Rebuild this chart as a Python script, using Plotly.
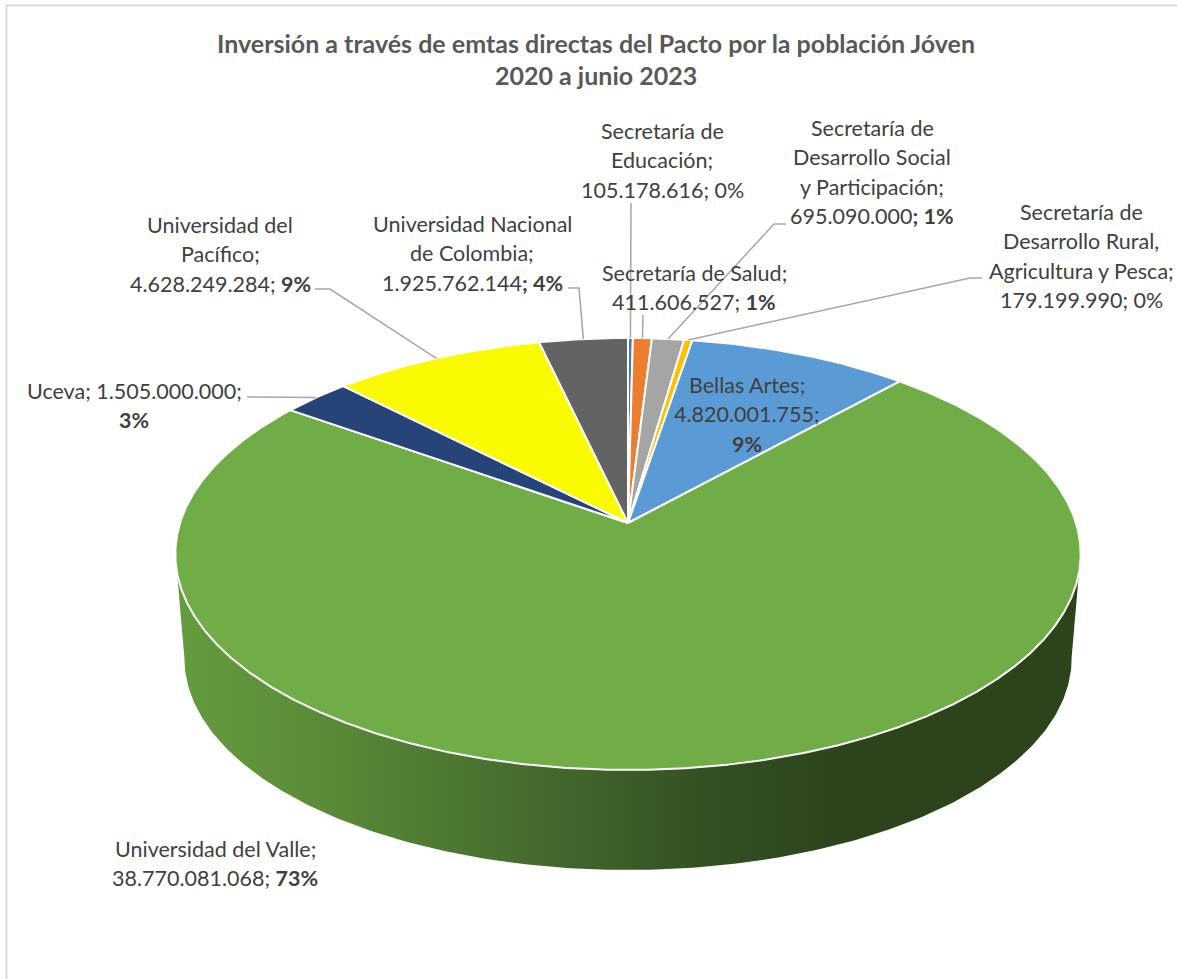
import numpy as np
import plotly.graph_objects as go

# ---- data ----
entities = ["Secretaría de Educación", "Secretaría de Salud",
            "Secretaría de Desarrollo Social y Participación",
            "Secretaría de Desarrollo Rural, Agricultura y Pesca",
            "Bellas Artes", "Universidad del Valle", "Uceva",
            "Universidad del Pacífico", "Universidad Nacional de Colombia"]
amounts = [105178616, 411606527, 695090000, 179199990, 4820001755,
           38770081068, 1505000000, 4628249284, 1925762144]
colors = ["#4472C4", "#ED7D31", "#A5A5A5", "#FFC000", "#5B9BD5",
          "#70AD47", "#264478", "#FAFA00", "#636363"]
title_lines = ["Inversión a través de emtas directas del Pacto por la población Jóven",
               "2020 a junio 2023"]

# label text lines, one per rendered row
label_lines = [
    ["Secretaría de", "Educación;", "105.178.616; 0%"],
    ["Secretaría de Salud;", "411.606.527; <b>1%</b>"],
    ["Secretaría de", "Desarrollo Social", "y Participación;", "695.090.000<b>; 1%</b>"],
    ["Secretaría de", "Desarrollo Rural,", "Agricultura y Pesca;", "179.199.990; 0%"],
    ["Bellas Artes;", "4.820.001.755;", "<b>9%</b>"],
    ["Universidad del Valle;", "38.770.081.068; <b>73%</b>"],
    ["Uceva; 1.505.000.000;", "<b>3%</b>"],
    ["Universidad del", "Pacífico;", "4.628.249.284; <b>9%</b>"],
    ["Universidad Nacional", "de Colombia;", "1.925.762.144<b>; 4%</b>"],
]

# ---- layout constants (pixels of the 1177x979 canvas) ----
W, H = 1177, 979
CX, CY = 628.0, 523.0          # apex of the pie's top face
RX, RY, PERSP = 448.0, 211.5, 0.1435
BASE_DROP, BASE_SCALE = 105.0, 0.98
LINE_STEP = 29.3
label_pos = [(662, 131), (694, 273), (872, 128), (1081, 212), (747, 385),
             (215, 849), (134, 391), (220, 225), (472, 224)]
# leader elbows: list of points leading to the slice's rim
leaders = {0: [(631, 203)],
           1: [(643, 315)],
           2: [(786, 224), (774, 224)],
           3: [(982, 278), (970, 278)],
           6: [(247, 397)],
           7: [(315, 289), (330, 289)],
           8: [(568, 288), (579, 288)]}


def project(theta_deg, scale=1.0, drop=0.0):
    t = np.radians(theta_deg)
    x, y = np.sin(t), np.cos(t)
    d = 1 + PERSP * y
    return CX + scale * RX * x / d, CY + drop - scale * RY * y / d


fig = go.Figure()

# side wall (front of the largest slice)
wall_a = np.linspace(98, 262, 240)
tx, ty = project(wall_a)
bx, by = project(wall_a[::-1], BASE_SCALE, BASE_DROP)
fig.add_trace(go.Scatter(
    x=np.r_[tx, bx], y=np.r_[ty, by], mode="lines", fill="toself",
    line=dict(width=0), hoverinfo="skip",
    fillgradient=dict(type="horizontal", start=176, stop=1081, colorscale=[
        [0.00, "#659C3F"], [0.14, "#5C8E39"], [0.36, "#487030"],
        [0.58, "#345122"], [0.75, "#2C431C"], [1.00, "#2C431C"]])))

# top face slices
total = sum(amounts)
edges = np.r_[0, np.cumsum(amounts)] / total * 360
mids = (edges[:-1] + edges[1:]) / 2
for i, name in enumerate(entities):
    a = np.linspace(edges[i], edges[i + 1], max(3, int(edges[i + 1] - edges[i]) * 3))
    px, py = project(a)
    fig.add_trace(go.Scatter(
        x=np.r_[CX, px, CX], y=np.r_[CY, py, CY], mode="lines", fill="toself",
        fillcolor=colors[i], line=dict(color="white", width=2),
        name=name, text=f"{name}: {amounts[i]:,}", hoverinfo="text"))

# leader lines
for i, pts in leaders.items():
    ex, ey = project(mids[i])
    fig.add_trace(go.Scatter(
        x=[p[0] for p in pts] + [float(ex)], y=[p[1] for p in pts] + [float(ey)],
        mode="lines", line=dict(color="#A6A6A6", width=1.5), hoverinfo="skip"))

# text
ann = []
FONT = "Lato"
for row, line in enumerate(title_lines):
    ann.append(dict(x=596, y=43 + row * 32, text=f"<b>{line}</b>", showarrow=False,
                    xanchor="center", yanchor="middle",
                    font=dict(family=FONT, size=25, color="#595959")))
for lines, (lx, ly) in zip(label_lines, label_pos):
    for row, line in enumerate(lines):
        ann.append(dict(x=lx, y=ly + row * LINE_STEP, text=line, showarrow=False,
                        xanchor="center", yanchor="middle",
                        font=dict(family=FONT, size=21.5, color="#404040")))

shapes = [
    dict(type="line", x0=6.5, x1=6.5, y0=5, y1=H, line=dict(color="#D9D9D9", width=2)),
    dict(type="line", x0=6, x1=W, y0=5.5, y1=5.5, line=dict(color="#D9D9D9", width=2)),
]

fig.update_layout(
    width=W, height=H, margin=dict(l=0, r=0, t=0, b=0), showlegend=False,
    paper_bgcolor="white", plot_bgcolor="white", annotations=ann, shapes=shapes,
    xaxis=dict(range=[0, W], visible=False, fixedrange=True),
    yaxis=dict(range=[H, 0], visible=False, fixedrange=True),
)
fig.write_html("out.html", config={"displayModeBar": False},
               post_script="document.body.style.margin='0';document.body.style.overflow='hidden';")
